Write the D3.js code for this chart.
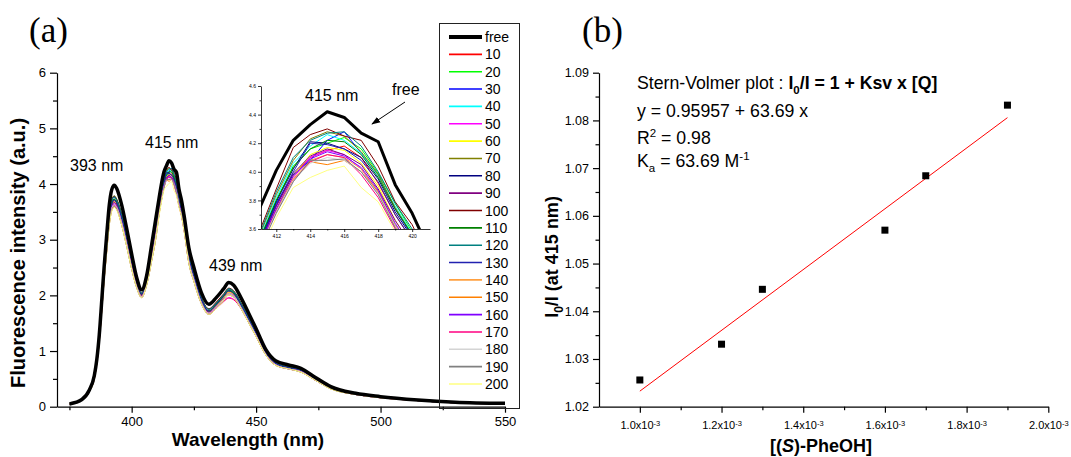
<!DOCTYPE html>
<html>
<head>
<meta charset="utf-8">
<script src="https://cdn.jsdelivr.net/npm/d3@7"></script>
<style>
  body { margin: 0; background: #fff; }
  svg { display: block; }
</style>
</head>
<body>
<svg id="fig" width="1071" height="457"></svg>
<script>
// ---------- Panel (a): emission spectra ----------
// Wavelength grid (nm) shared by every spectrum
const wavelengths = [375,380,383,385,386,387,388,389,390,391,392,393,394,396,398,400,402,404,406,408,410,
  411,412,413,414,415,416,417,418,419,420,421,
  423,425,428,431,434,437,439,441,444,447,450,454,458,463,468,474,480,490,500,515,530,550];

// Fluorescence intensity (a.u.) of the free host
const free = [0.05,0.13,0.30,0.56,0.85,1.30,1.92,2.55,3.10,3.62,3.90,3.98,3.92,3.62,3.20,2.74,2.32,2.10,2.35,2.90,3.46,
  3.74,4.01,4.22,4.33,4.42,4.38,4.27,4.21,3.91,3.71,3.45,
  2.85,2.50,2.05,1.84,1.96,2.12,2.23,2.18,1.95,1.68,1.40,1.02,0.82,0.75,0.69,0.52,0.36,0.24,0.18,0.12,0.08,0.06];

// Intensity after each addition of guest (equivalents)
const conc10 = [0.05,0.12,0.28,0.52,0.79,1.20,1.78,2.36,2.87,3.35,3.62,3.70,3.64,3.35,2.96,2.53,2.18,2.00,2.22,2.68,3.20,
  3.50,3.76,3.98,4.10,4.15,4.18,4.10,3.92,3.70,3.52,3.28,
  2.64,2.31,1.90,1.70,1.81,1.96,2.06,2.02,1.80,1.55,1.30,0.94,0.76,0.69,0.64,0.48,0.33,0.22,0.17,0.11,0.07,0.06];
const conc20 = [0.05,0.12,0.28,0.52,0.80,1.22,1.80,2.39,2.90,3.39,3.65,3.73,3.67,3.39,3.00,2.57,2.20,2.02,2.24,2.72,3.24,
  3.52,3.80,4.04,4.16,4.20,4.24,4.16,3.99,3.78,3.58,3.33,
  2.67,2.34,1.92,1.72,1.84,2.00,2.10,2.05,1.83,1.57,1.31,0.96,0.77,0.70,0.65,0.49,0.34,0.22,0.17,0.11,0.07,0.06];
const conc30 = [0.05,0.12,0.28,0.53,0.81,1.24,1.82,2.42,2.95,3.44,3.70,3.76,3.71,3.44,3.04,2.60,2.22,2.04,2.26,2.76,3.29,
  3.50,3.78,3.98,4.08,4.22,4.28,4.13,3.98,3.74,3.55,3.30,
  2.71,2.38,1.95,1.75,1.86,2.01,2.11,2.07,1.85,1.60,1.33,0.97,0.78,0.71,0.66,0.49,0.34,0.23,0.17,0.11,0.08,0.06];
const conc40 = [0.05,0.12,0.28,0.53,0.81,1.24,1.82,2.42,2.95,3.44,3.71,3.78,3.72,3.44,3.04,2.60,2.22,2.04,2.26,2.76,3.29,
  3.53,3.82,4.06,4.18,4.26,4.22,4.13,3.97,3.76,3.57,3.32,
  2.71,2.38,1.95,1.75,1.86,2.02,2.12,2.07,1.85,1.60,1.33,0.97,0.78,0.71,0.66,0.49,0.34,0.23,0.17,0.11,0.08,0.06];
const conc50 = [0.05,0.12,0.28,0.52,0.79,1.20,1.78,2.36,2.87,3.34,3.59,3.66,3.61,3.34,2.95,2.53,2.18,2.00,2.22,2.68,3.20,
  3.48,3.74,3.96,4.10,4.15,4.12,4.02,3.85,3.62,3.45,3.20,
  2.62,2.29,1.88,1.69,1.78,1.90,1.96,1.93,1.77,1.54,1.29,0.94,0.76,0.69,0.64,0.48,0.33,0.22,0.17,0.11,0.07,0.06];
const conc60 = [0.05,0.12,0.28,0.52,0.79,1.20,1.78,2.36,2.87,3.35,3.61,3.68,3.63,3.35,2.96,2.53,2.18,2.00,2.22,2.68,3.20,
  3.47,3.73,3.97,4.12,4.17,4.15,4.06,3.90,3.66,3.48,3.23,
  2.64,2.31,1.90,1.70,1.81,1.96,2.06,2.02,1.80,1.55,1.30,0.94,0.76,0.69,0.64,0.48,0.33,0.22,0.17,0.11,0.07,0.06];
const conc70 = [0.05,0.12,0.28,0.53,0.81,1.24,1.83,2.43,2.96,3.45,3.72,3.79,3.73,3.45,3.05,2.61,2.22,2.04,2.26,2.76,3.30,
  3.55,3.84,4.08,4.23,4.28,4.25,4.14,3.98,3.75,3.56,3.31,
  2.71,2.38,1.95,1.75,1.86,2.01,2.12,2.07,1.85,1.60,1.33,0.97,0.78,0.71,0.66,0.49,0.34,0.23,0.17,0.11,0.08,0.06];
const conc80 = [0.05,0.12,0.28,0.52,0.80,1.22,1.80,2.39,2.90,3.39,3.64,3.72,3.66,3.39,3.00,2.57,2.20,2.02,2.24,2.72,3.24,
  3.51,3.79,4.02,4.21,4.20,4.16,4.10,3.95,3.72,3.54,3.29,
  2.67,2.34,1.92,1.72,1.84,1.99,2.08,2.04,1.83,1.57,1.31,0.96,0.77,0.70,0.65,0.49,0.34,0.22,0.17,0.11,0.07,0.06];
const conc90 = [0.05,0.12,0.28,0.52,0.79,1.20,1.78,2.36,2.87,3.35,3.60,3.67,3.62,3.35,2.96,2.53,2.18,2.00,2.22,2.68,3.20,
  3.49,3.76,3.99,4.11,4.16,4.12,4.05,3.88,3.66,3.48,3.24,
  2.64,2.31,1.90,1.70,1.80,1.94,2.03,2.00,1.80,1.55,1.30,0.94,0.76,0.69,0.64,0.48,0.33,0.22,0.17,0.11,0.07,0.06];
const conc100 = [0.05,0.12,0.28,0.53,0.81,1.24,1.82,2.42,2.95,3.44,3.71,3.78,3.72,3.44,3.04,2.60,2.22,2.04,2.26,2.76,3.30,
  3.58,3.88,4.17,4.26,4.30,4.25,4.22,4.04,3.79,3.63,3.38,
  2.72,2.39,1.96,1.76,1.88,2.03,2.13,2.08,1.86,1.60,1.33,0.97,0.78,0.71,0.66,0.49,0.34,0.23,0.17,0.11,0.08,0.06];
const conc110 = [0.05,0.12,0.28,0.52,0.80,1.22,1.80,2.39,2.90,3.39,3.65,3.73,3.67,3.39,3.00,2.57,2.20,2.02,2.24,2.72,3.24,
  3.52,3.80,4.03,4.16,4.22,4.21,4.12,3.96,3.74,3.56,3.31,
  2.67,2.34,1.92,1.72,1.84,1.99,2.09,2.04,1.83,1.57,1.31,0.96,0.77,0.70,0.65,0.49,0.34,0.22,0.17,0.11,0.07,0.06];
const conc120 = [0.05,0.12,0.28,0.53,0.81,1.24,1.82,2.42,2.95,3.44,3.70,3.77,3.71,3.44,3.04,2.60,2.22,2.04,2.26,2.76,3.29,
  3.56,3.86,4.10,4.22,4.27,4.28,4.18,4.00,3.78,3.60,3.35,
  2.71,2.38,1.95,1.75,1.86,2.01,2.12,2.07,1.85,1.60,1.33,0.97,0.78,0.71,0.66,0.49,0.34,0.23,0.17,0.11,0.08,0.06];
const conc130 = [0.05,0.12,0.28,0.52,0.80,1.22,1.80,2.39,2.90,3.38,3.64,3.71,3.66,3.38,2.99,2.56,2.20,2.02,2.24,2.72,3.24,
  3.50,3.77,4.00,4.20,4.19,4.16,4.08,3.93,3.70,3.52,3.27,
  2.67,2.34,1.92,1.72,1.83,1.98,2.08,2.03,1.82,1.57,1.31,0.96,0.77,0.70,0.65,0.49,0.34,0.22,0.17,0.11,0.07,0.06];
const conc140 = [0.05,0.12,0.27,0.51,0.78,1.19,1.75,2.33,2.83,3.30,3.56,3.63,3.58,3.30,2.92,2.50,2.16,1.98,2.20,2.64,3.16,
  3.47,3.73,3.95,4.08,4.12,4.10,4.02,3.86,3.63,3.46,3.21,
  2.60,2.28,1.87,1.68,1.79,1.93,2.03,1.99,1.78,1.53,1.28,0.93,0.75,0.68,0.63,0.47,0.33,0.22,0.16,0.11,0.07,0.05];
const conc150 = [0.05,0.12,0.27,0.50,0.77,1.17,1.73,2.30,2.79,3.26,3.52,3.59,3.54,3.26,2.88,2.47,2.14,1.96,2.18,2.61,3.11,
  3.46,3.72,3.94,4.07,4.05,4.08,4.00,3.86,3.62,3.44,3.19,
  2.57,2.25,1.85,1.66,1.76,1.91,2.01,1.96,1.76,1.51,1.26,0.92,0.74,0.68,0.62,0.47,0.32,0.22,0.16,0.11,0.07,0.05];
const conc160 = [0.05,0.12,0.27,0.51,0.78,1.19,1.75,2.33,2.83,3.31,3.57,3.64,3.59,3.31,2.92,2.50,2.16,1.98,2.20,2.64,3.16,
  3.48,3.74,3.97,4.09,4.14,4.11,4.03,3.87,3.64,3.46,3.21,
  2.60,2.28,1.87,1.68,1.79,1.93,2.03,1.99,1.78,1.53,1.28,0.93,0.75,0.68,0.63,0.47,0.33,0.22,0.16,0.11,0.07,0.05];
const conc170 = [0.05,0.12,0.27,0.51,0.78,1.19,1.75,2.33,2.83,3.30,3.55,3.62,3.57,3.30,2.92,2.50,2.16,1.98,2.20,2.64,3.16,
  3.46,3.72,3.94,4.07,4.12,4.10,3.98,3.82,3.60,3.43,3.18,
  2.59,2.27,1.86,1.67,1.76,1.89,1.95,1.92,1.76,1.52,1.27,0.93,0.75,0.68,0.63,0.47,0.33,0.22,0.16,0.11,0.07,0.05];
const conc180 = [0.05,0.12,0.27,0.51,0.78,1.19,1.75,2.33,2.83,3.30,3.56,3.63,3.58,3.30,2.92,2.50,2.16,1.98,2.20,2.64,3.16,
  3.46,3.72,3.94,4.06,4.10,4.08,4.00,3.85,3.62,3.45,3.20,
  2.60,2.28,1.87,1.68,1.79,1.93,2.03,1.99,1.78,1.53,1.28,0.93,0.75,0.68,0.63,0.47,0.33,0.22,0.16,0.11,0.07,0.05];
const conc190 = [0.05,0.12,0.27,0.50,0.77,1.17,1.73,2.30,2.79,3.26,3.53,3.60,3.55,3.26,2.88,2.47,2.14,1.96,2.18,2.61,3.11,
  3.45,3.71,3.93,4.08,4.08,4.09,4.00,3.84,3.61,3.44,3.19,
  2.57,2.25,1.85,1.66,1.76,1.91,2.01,1.96,1.76,1.51,1.26,0.92,0.74,0.68,0.62,0.47,0.32,0.22,0.16,0.11,0.07,0.05];
const conc200 = [0.05,0.12,0.27,0.50,0.77,1.17,1.73,2.30,2.79,3.26,3.51,3.58,3.53,3.26,2.88,2.47,2.14,1.96,2.18,2.61,3.11,
  3.42,3.68,3.89,3.96,4.01,4.04,3.89,3.79,3.58,3.42,3.17,
  2.57,2.25,1.85,1.66,1.76,1.91,2.01,1.96,1.76,1.51,1.26,0.92,0.74,0.68,0.62,0.47,0.32,0.22,0.16,0.11,0.07,0.05];

const seriesLabels = ["free","10","20","30","40","50","60","70","80","90","100",
  "110","120","130","140","150","160","170","180","190","200"];
const seriesColors = ["#000000","#FF0000","#00FF00","#0000FF","#00FFFF","#FF00FF","#FFFF00","#808000",
  "#000080","#800080","#800000","#008000","#008080","#2222B0","#FFA040","#FF8000","#8000FF",
  "#FF0080","#D4D4D4","#808080","#FFFF80"];
const seriesValues = [free, conc10, conc20, conc30, conc40, conc50, conc60, conc70, conc80, conc90, conc100,
  conc110, conc120, conc130, conc140, conc150, conc160, conc170, conc180, conc190, conc200];

const xTicksA = [400, 450, 500, 550];
const xMinorA = [375, 425, 475, 525];
const yTicksA = [0, 1, 2, 3, 4, 5, 6];
const yMinorA = [0.5, 1.5, 2.5, 3.5, 4.5, 5.5];
const xTicksInset = [412, 414, 416, 418, 420];
const xMinorInset = [413, 415, 417, 419];
const yTicksInset = [3.6, 3.8, 4.0, 4.2, 4.4, 4.6];
const yMinorInset = [3.7, 3.9, 4.1, 4.3, 4.5];

// ---------- Panel (b): Stern-Volmer data ----------
const guestConc = [1.0e-3, 1.2e-3, 1.3e-3, 1.6e-3, 1.7e-3, 1.9e-3];
const intensityRatio = [1.0256, 1.0331, 1.0446, 1.0570, 1.0684, 1.0832];
const fitIntercept = 0.95957;
const fitSlope = 63.69;
const xTicksB = [1.0e-3, 1.2e-3, 1.4e-3, 1.6e-3, 1.8e-3, 2.0e-3];
const xTickLabelsB = ["1.0", "1.2", "1.4", "1.6", "1.8", "2.0"];
const xMinorB = [1.1e-3, 1.3e-3, 1.5e-3, 1.7e-3, 1.9e-3];
const yTicksB = [1.02, 1.03, 1.04, 1.05, 1.06, 1.07, 1.08, 1.09];
const yMinorB = [1.025, 1.035, 1.045, 1.055, 1.065, 1.075, 1.085];

// ---------- drawing ----------
const svg = d3.select("#fig");
const FONT = '"Liberation Sans", Arial, Helvetica, sans-serif';
const SERIF = '"Liberation Serif", "Times New Roman", serif';

function styleAxis(g, fontSize, width) {
  g.attr("font-family", FONT).attr("font-size", fontSize);
  g.select(".domain").attr("stroke", "#000").attr("stroke-width", width);
  g.selectAll(".tick line").attr("stroke", "#000").attr("stroke-width", width);
  g.selectAll(".tick text").attr("fill", "#000");
}
function minorAxis(g, axis, width) {
  g.call(axis);
  g.select(".domain").remove();
  g.selectAll(".tick text").remove();
  g.selectAll(".tick line").attr("stroke", "#000").attr("stroke-width", width);
}

const defs = svg.append("defs");
defs.append("marker").attr("id", "arrowHead")
  .attr("viewBox", "0 0 10 10").attr("refX", 9).attr("refY", 5)
  .attr("markerWidth", 9).attr("markerHeight", 9).attr("orient", "auto")
  .append("path").attr("d", "M0,1.5L10,5L0,8.5z").attr("fill", "#000");

// Panel (a) scales
const xA = d3.scaleLinear().domain([370, 550]).range([57, 505]);
const yA = d3.scaleLinear().domain([0, 6]).range([406.7, 72.7]);

// spectra: quenched series first, free host on top
const lineA = d3.line()
  .x((d, i) => xA(wavelengths[i]))
  .y(d => yA(d))
  .curve(d3.curveMonotoneX);
const order = d3.range(1, seriesValues.length).concat([0]);
svg.append("g").selectAll("path").data(order).join("path")
  .attr("d", i => lineA(seriesValues[i]))
  .attr("fill", "none")
  .attr("stroke", i => seriesColors[i])
  .attr("stroke-width", i => i === 0 ? 3.5 : 1)
  .attr("stroke-linejoin", "round");

// axes (a)
const gxA = svg.append("g").attr("transform", `translate(0,${yA(0)})`);
gxA.call(d3.axisBottom(xA).tickValues(xTicksA).tickSize(6).tickSizeOuter(0).tickPadding(4).tickFormat(d3.format("d")));
styleAxis(gxA, 13, 1.2);
svg.append("g").attr("transform", `translate(0,${yA(0)})`)
  .call(g => minorAxis(g, d3.axisBottom(xA).tickValues(xMinorA).tickSize(3.5), 1.2));

const gyA = svg.append("g").attr("transform", `translate(${xA(370)},0)`);
gyA.call(d3.axisLeft(yA).tickValues(yTicksA).tickSize(7).tickSizeOuter(0).tickPadding(4).tickFormat(d3.format("d")));
styleAxis(gyA, 13, 1.2);
svg.append("g").attr("transform", `translate(${xA(370)},0)`)
  .call(g => minorAxis(g, d3.axisLeft(yA).tickValues(yMinorA).tickSize(4), 1.2));

// axis titles (a)
svg.append("text").attr("x", 248).attr("y", 446)
  .attr("text-anchor", "middle").attr("font-family", FONT).attr("font-weight", "bold")
  .attr("font-size", 19).text("Wavelength (nm)");
svg.append("text").attr("transform", "translate(25,253) rotate(-90)")
  .attr("text-anchor", "middle").attr("font-family", FONT).attr("font-weight", "bold")
  .attr("font-size", 20).text("Fluorescence intensity (a.u.)");

// peak annotations
const peakNotes = [{t: "393 nm", x: 70, y: 171}, {t: "415 nm", x: 145, y: 148}, {t: "439 nm", x: 209, y: 271}];
svg.append("g").selectAll("text").data(peakNotes).join("text")
  .attr("x", d => d.x).attr("y", d => d.y)
  .attr("font-family", FONT).attr("font-size", 16).text(d => d.t);

// panel tag
svg.append("text").attr("x", 29).attr("y", 42).attr("font-family", SERIF).attr("font-size", 35).text("(a)");

// ---------- inset: close-up of the 415 nm band ----------
const xI = d3.scaleLinear().domain([411.1, 421.05]).range([261, 430]);
const yI = d3.scaleLinear().domain([3.6, 4.6]).range([229, 86]);
defs.append("clipPath").attr("id", "insetClip")
  .append("rect").attr("x", 261).attr("y", 86).attr("width", 169).attr("height", 143);

const insetIdx = wavelengths.map((w, i) => i).filter(i => wavelengths[i] >= 410 && wavelengths[i] <= 423);
svg.append("g").attr("clip-path", "url(#insetClip)")
  .selectAll("path").data(order).join("path")
  .attr("d", s => d3.line().x(i => xI(wavelengths[i])).y(i => yI(seriesValues[s][i]))(insetIdx))
  .attr("fill", "none")
  .attr("stroke", s => seriesColors[s])
  .attr("stroke-width", s => s === 0 ? 3 : 1)
  .attr("stroke-linejoin", "round");

const gxI = svg.append("g").attr("transform", `translate(0,${yI(3.6)})`);
gxI.call(d3.axisBottom(xI).tickValues(xTicksInset).tickSize(3).tickSizeOuter(0).tickPadding(2).tickFormat(d3.format("d")));
styleAxis(gxI, 5, 0.8);
svg.append("g").attr("transform", `translate(0,${yI(3.6)})`)
  .call(g => minorAxis(g, d3.axisBottom(xI).tickValues(xMinorInset).tickSize(1.5), 0.8));
const gyI = svg.append("g").attr("transform", `translate(${xI(411.1)},0)`);
gyI.call(d3.axisLeft(yI).tickValues(yTicksInset).tickSize(3).tickSizeOuter(0).tickPadding(2).tickFormat(d3.format(".1f")));
styleAxis(gyI, 5, 0.8);
svg.append("g").attr("transform", `translate(${xI(411.1)},0)`)
  .call(g => minorAxis(g, d3.axisLeft(yI).tickValues(yMinorInset).tickSize(1.5), 0.8));

svg.append("text").attr("x", 305).attr("y", 101).attr("font-family", FONT).attr("font-size", 16).text("415 nm");
svg.append("text").attr("x", 392).attr("y", 95).attr("font-family", FONT).attr("font-size", 16).text("free");
svg.append("line").attr("x1", 405).attr("y1", 102).attr("x2", 372).attr("y2", 124)
  .attr("stroke", "#000").attr("stroke-width", 1).attr("marker-end", "url(#arrowHead)");

// legend
const legend = svg.append("g").attr("font-family", FONT).attr("font-size", 14);
legend.append("rect").attr("x", 439.5).attr("y", 23.5).attr("width", 80).attr("height", 385)
  .attr("fill", "none").attr("stroke", "#222").attr("stroke-width", 1);
const legRows = legend.selectAll("g.row").data(seriesLabels).join("g")
  .attr("class", "row")
  .attr("transform", (d, i) => `translate(0,${37 + i * 17.35})`);
legRows.append("line").attr("x1", 449).attr("x2", 482).attr("y1", 0).attr("y2", 0)
  .attr("stroke", (d, i) => seriesColors[i])
  .attr("stroke-width", (d, i) => i === 0 ? 4 : 1.6);
legRows.append("text").attr("x", 485).attr("y", 5).attr("fill", "#000").text(d => d);

// ---------- Panel (b) ----------
const xB = d3.scaleLinear().domain([0.9e-3, 2.0e-3]).range([599, 1048.3]);
const yB = d3.scaleLinear().domain([1.02, 1.09]).range([406.7, 72.7]);

const gxB = svg.append("g").attr("transform", `translate(0,${yB(1.02)})`);
gxB.call(d3.axisBottom(xB).tickValues(xTicksB).tickSize(6).tickSizeOuter(0).tickPadding(9).tickFormat(""));
styleAxis(gxB, 11, 1.2);
gxB.selectAll(".tick text").each(function(d, i) {
  const t = d3.select(this);
  t.append("tspan").text(xTickLabelsB[i] + "x10");
  t.append("tspan").attr("font-size", 7.5).attr("dy", "-0.45em").text("-3");
});
svg.append("g").attr("transform", `translate(0,${yB(1.02)})`)
  .call(g => minorAxis(g, d3.axisBottom(xB).tickValues(xMinorB).tickSize(3.5), 1.2));

const gyB = svg.append("g").attr("transform", `translate(${xB(0.9e-3)},0)`);
gyB.call(d3.axisLeft(yB).tickValues(yTicksB).tickSize(6).tickSizeOuter(0).tickPadding(4).tickFormat(d3.format(".2f")));
styleAxis(gyB, 12.5, 1.2);
svg.append("g").attr("transform", `translate(${xB(0.9e-3)},0)`)
  .call(g => minorAxis(g, d3.axisLeft(yB).tickValues(yMinorB).tickSize(3.5), 1.2));

// linear fit
const fitX = [guestConc[0], guestConc[guestConc.length - 1]];
svg.append("path")
  .attr("d", d3.line().x(c => xB(c)).y(c => yB(fitIntercept + fitSlope * c))(fitX))
  .attr("fill", "none").attr("stroke", "#FF0000").attr("stroke-width", 1);

// data points
svg.append("g").selectAll("rect").data(guestConc).join("rect")
  .attr("x", (c) => xB(c) - 3.5)
  .attr("y", (c, i) => yB(intensityRatio[i]) - 3.5)
  .attr("width", 7).attr("height", 7).attr("fill", "#000");

// annotation block
const note = svg.append("g").attr("font-family", FONT).attr("font-size", 17.7).attr("fill", "#000");
const r1 = note.append("text").attr("x", 637).attr("y", 89);
r1.append("tspan").text("Stern-Volmer plot : ");
r1.append("tspan").attr("font-weight", "bold").text("I");
r1.append("tspan").attr("font-weight", "bold").attr("font-size", 11.5).attr("dy", 5).text("0");
r1.append("tspan").attr("font-weight", "bold").attr("dy", -5).text("/I = 1 + Ksv x [Q]");
note.append("text").attr("x", 637).attr("y", 117).text("y = " + fitIntercept + " + " + fitSlope + " x");
const r3 = note.append("text").attr("x", 637).attr("y", 144);
r3.append("tspan").text("R");
r3.append("tspan").attr("font-size", 11.5).attr("dy", -7).text("2");
r3.append("tspan").attr("dy", 7).text(" = 0.98");
const r4 = note.append("text").attr("x", 637).attr("y", 167);
r4.append("tspan").text("K");
r4.append("tspan").attr("font-size", 11.5).attr("dy", 5).text("a");
r4.append("tspan").attr("dy", -5).text(" = " + fitSlope + " M");
r4.append("tspan").attr("font-size", 11.5).attr("dy", -7).text("-1");

// axis titles (b)
const yt = svg.append("text").attr("transform", "translate(558,257) rotate(-90)")
  .attr("text-anchor", "middle").attr("font-family", FONT).attr("font-weight", "bold").attr("font-size", 18);
yt.append("tspan").text("I");
yt.append("tspan").attr("font-size", 12).attr("dy", 5).text("0");
yt.append("tspan").attr("dy", -5).text("/I (at 415 nm)");

const xt = svg.append("text").attr("x", 821).attr("y", 452)
  .attr("text-anchor", "middle").attr("font-family", FONT).attr("font-weight", "bold").attr("font-size", 18);
xt.append("tspan").text("[(");
xt.append("tspan").attr("font-style", "italic").text("S");
xt.append("tspan").text(")-PheOH]");

svg.append("text").attr("x", 582).attr("y", 42).attr("font-family", SERIF).attr("font-size", 35).text("(b)");
</script>
</body>
</html>
